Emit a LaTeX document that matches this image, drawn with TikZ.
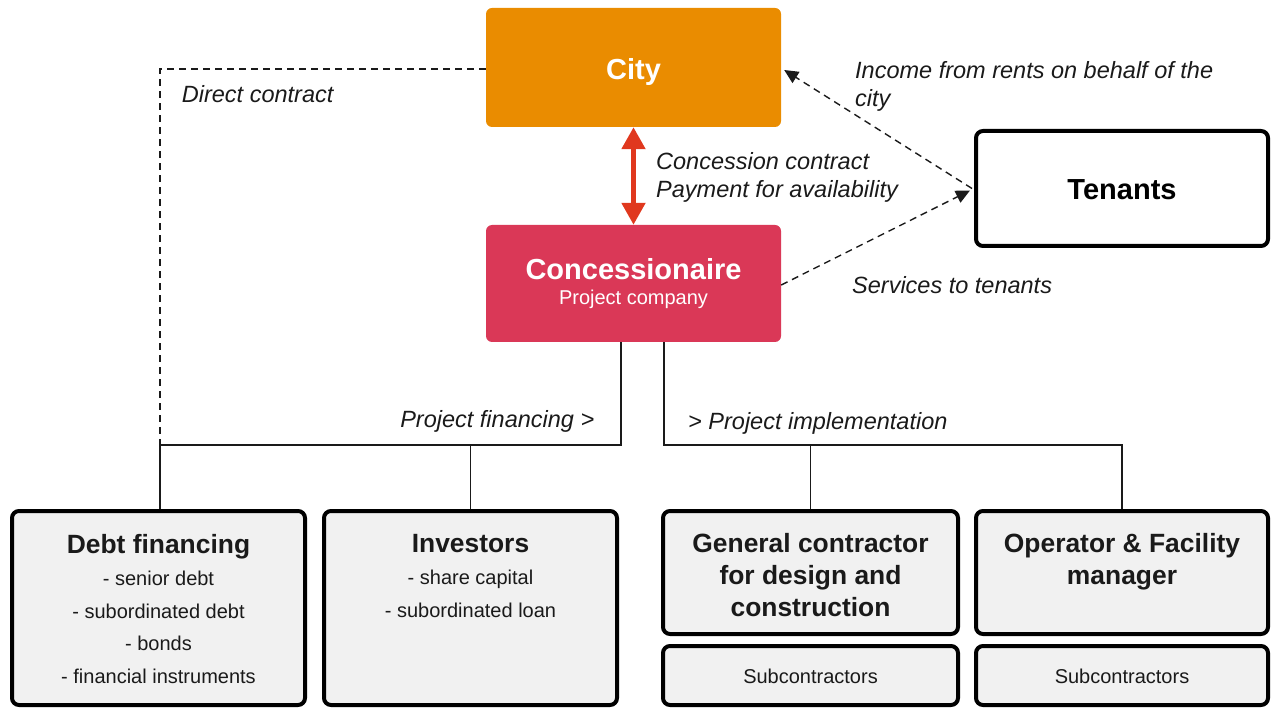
\documentclass[tikz,border=0pt]{standalone}
\usepackage{fontspec}
\setmainfont{Liberation Sans}
\usetikzlibrary{arrows.meta,calc}
\definecolor{cityorange}{RGB}{234,140,0}
\definecolor{concred}{RGB}{218,56,87}
\definecolor{arrowred}{RGB}{224,56,30}
\definecolor{boxgray}{RGB}{241,241,241}
\definecolor{textdark}{RGB}{26,26,26}
\begin{document}
\begin{tikzpicture}[x=1pt,y=-1pt,
  fillbox/.style={rectangle, rounded corners=6pt, inner sep=0pt},
  linebox/.style={rectangle, draw=black, line width=4pt, rounded corners=7pt, inner sep=0pt},
  bigtitle/.style={font=\bfseries\fontsize{29}{32}\selectfont, text=white, inner sep=0pt, anchor=base},
  subtitle/.style={font=\fontsize{20}{24}\selectfont, text=white, inner sep=0pt, anchor=base},
  boxtext/.style={font=\fontsize{20}{32.5}\selectfont, text=textdark, inner sep=0pt, anchor=north, align=center},
  boxtitle/.style={font=\bfseries\fontsize{26.4}{32}\selectfont, text=textdark, inner sep=0pt, anchor=north, align=center},
  lab/.style={font=\itshape\fontsize{23.5}{28.7}\selectfont, text=textdark, inner sep=0pt},
  busline/.style={draw=textdark, line width=1.5pt},
  dashline/.style={draw=textdark, line width=1.4pt, dash pattern=on 7pt off 5pt},
  dasharrow/.style={dashline, -{Triangle[length=14pt,width=13pt]}},
  redarrow/.style={draw=arrowred, line width=5pt, {Triangle[length=22pt,width=23pt]}-{Triangle[length=22pt,width=23pt]}}
]
\useasboundingbox (0,0) rectangle (1272,708);

% top boxes
\node[fillbox, fill=cityorange, minimum width=295pt, minimum height=119pt] (city) at (633.5,67.5) {};
\node[bigtitle] (cityT) at (633.5,79.3) {City};
\node[fillbox, fill=concred, minimum width=295pt, minimum height=117pt] (conc) at (633.5,283.5) {};
\node[bigtitle] (concT) at (633.5,279.3) {Concessionaire};
\node[subtitle] (concS) at (633.5,305) {Project company};
\node[linebox, fill=white, minimum width=292pt, minimum height=115pt] (ten) at (1122,188.5) {};
\node[bigtitle, text=black] (tenT) at (1122,199.3) {Tenants};

% bottom boxes
\node[linebox, fill=boxgray, minimum width=293pt, minimum height=194pt] (debt) at (158.5,608) {};
\node[boxtext] (debtT) at (158.5,534) {{\bfseries\fontsize{26.4}{31}\selectfont Debt financing}\\- senior debt\\- subordinated debt\\- bonds\\- financial instruments};
\node[linebox, fill=boxgray, minimum width=293pt, minimum height=194pt] (inv) at (470.5,608) {};
\node[boxtext] (invT) at (470.5,534) {{\bfseries\fontsize{26.4}{31}\selectfont Investors}\\- share capital\\- subordinated loan};
\node[linebox, fill=boxgray, minimum width=295pt, minimum height=123pt] (gen) at (810.5,572.5) {};
\node[boxtitle] (genT) at (810.5,533.5) {General contractor\\for design and\\construction};
\node[linebox, fill=boxgray, minimum width=292pt, minimum height=123pt] (op) at (1122,572.5) {};
\node[boxtitle] (opT) at (1122,533.5) {Operator \& Facility\\manager};
\node[linebox, fill=boxgray, minimum width=295pt, minimum height=59pt] (gensub) at (810.5,675.5) {};
\node[subtitle, text=textdark] (gensubT) at (810.5,683) {Subcontractors};
\node[linebox, fill=boxgray, minimum width=292pt, minimum height=59pt] (opsub) at (1122,675.5) {};
\node[subtitle, text=textdark] (opsubT) at (1122,683) {Subcontractors};

% connectors
\draw[redarrow] (city.south) -- (conc.north);
\draw[dasharrow] ($(ten.west)+(-2,0)$) -- ($(city.east)+(3,2.5)$);
\draw[dasharrow] ($(conc.east)+(0,1.5)$) -- ($(ten.west)+(-4,2)$);

\coordinate (busL) at (621,445);
\coordinate (busR) at (664,445);
\draw[dashline] ($(city.west)+(0,1.5)$) -- ($(city.west -| debt.north)+(1.5,1.5)$) -- ($(debt.north |- busL)+(1.5,0)$);
\draw[busline] (conc.south -| busL) -- (busL) -- ($(debt.north |- busL)+(1.5,0)$) -- ($(debt.north)+(1.5,0)$);
\draw[busline] (inv.north |- busL) -- (inv.north);
\draw[busline] (conc.south -| busR) -- (busR) -| (op.north);
\draw[busline] (gen.north |- busR) -- (gen.north);

% labels
\node[lab, anchor=base west] (dcL) at (181.7,102.7) {Direct contract};
\node[lab, anchor=north west, align=left] (incL) at (855,61) {Income from rents on behalf of the\\city};
\node[lab, anchor=north west, align=left] (ccL) at (656,152) {Concession contract\\Payment for availability};
\node[lab, anchor=base west] (svL) at (852,294) {Services to tenants};
\node[lab, anchor=base east] (pfL) at (594.5,428) {Project financing >};
\node[lab, anchor=base west] (piL) at (688,430) {> Project implementation};
\end{tikzpicture}
\end{document}
